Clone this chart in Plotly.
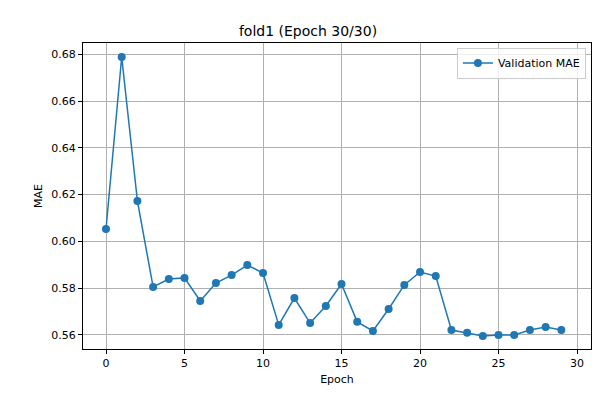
import plotly.graph_objects as go

epochs = list(range(30))
val_mae = [0.6053, 0.6788, 0.6173, 0.5805, 0.5839, 0.5844, 0.5745, 0.5822, 0.5856, 0.5899,
           0.5865, 0.5643, 0.5758, 0.5651, 0.5724, 0.5818, 0.5656, 0.5617, 0.5711, 0.5814,
           0.5869, 0.5852, 0.5621, 0.5609, 0.5596, 0.5600, 0.5600, 0.5621, 0.5634, 0.5621]

blue = "#1f77b4"
fig = go.Figure()
fig.add_trace(go.Scatter(x=epochs, y=val_mae, mode="lines+markers", name="Validation MAE",
                         line=dict(color=blue, width=1.5), marker=dict(color=blue, size=8)))

axis = dict(showgrid=True, gridcolor="#b0b0b0", gridwidth=1, zeroline=False, automargin=False,
            showline=True, linecolor="black", mirror=True, ticks="outside",
            ticklen=4, tickcolor="black", tickfont=dict(size=11, color="black"))
fig.update_layout(
    width=600, height=400, autosize=False,
    paper_bgcolor="white", plot_bgcolor="white",
    font=dict(family="DejaVu Sans", color="black"),
    margin=dict(l=75, r=17, t=35, b=59, pad=0),
    title=dict(text="fold1 (Epoch 30/30)", x=0.5, xanchor="center", y=0.955, font=dict(size=14), automargin=False),
    xaxis=dict(axis, range=[-1.465, 30.89], dtick=5, title=dict(text="Epoch", font=dict(size=11), standoff=6)),
    yaxis=dict(axis, range=[0.554, 0.6848], dtick=0.02, tickformat=".2f", title=dict(text="MAE", font=dict(size=11), standoff=6)),
    showlegend=True,
    legend=dict(x=0.99, y=0.985, xanchor="right", yanchor="top", bordercolor="#cccccc",
                borderwidth=1, bgcolor="rgba(255,255,255,0.8)", font=dict(size=11)),
)
fig.write_html("out.html")
